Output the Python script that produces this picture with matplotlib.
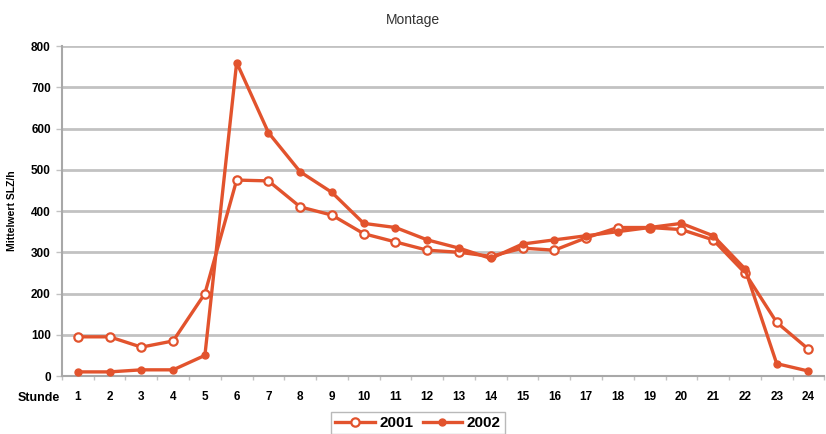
import matplotlib
matplotlib.use("Agg")
import matplotlib.pyplot as plt
import numpy as np

hours = list(range(1, 25))
val_2001 = [95, 95, 70, 85, 200, 475, 473, 410, 390, 345, 325, 305, 300, 290,
            310, 305, 335, 360, 360, 355, 330, 250, 130, 65]
val_2002 = [10, 10, 15, 15, 50, 760, 590, 495, 445, 370, 360, 330, 310, 285,
            320, 330, 340, 350, 360, 370, 340, 260, 30, 12]
y_ticks = [0, 100, 200, 300, 400, 500, 600, 700, 800]

color = "#E2532D"
grid_c = "#C2C2C2"
spine_c = "#A8A8A8"
font = "Liberation Sans"

fig = plt.figure(figsize=(8.26, 4.34), dpi=100)
ax = fig.add_axes([0.075, 0.1336, 0.923, 0.7604])

x = np.arange(len(hours))
ax.plot(x, val_2001, color=color, lw=2.4, marker="o", ms=6,
        mfc="white", mec=color, mew=1.6, label="2001", zorder=3)
ax.plot(x, val_2002, color=color, lw=2.4, marker="o", ms=5,
        mfc=color, mec=color, label="2002", zorder=4)

ax.set_xlim(-0.5, len(hours) - 0.5)
ax.set_ylim(0, 800)
ax.set_yticks(y_ticks)
ax.set_yticklabels([str(v) for v in y_ticks], fontsize=8.5, fontweight="bold",
                   family=font)
ax.yaxis.grid(True, color=grid_c, lw=2)
ax.set_axisbelow(True)

ax.set_xticks(x)
ax.set_xticklabels([str(h) for h in hours], fontsize=8.5, fontweight="bold",
                   family=font)
ax.tick_params(axis="x", length=0, pad=11)
ax.set_xticks(np.arange(-0.5, len(hours)), minor=True)
ax.tick_params(axis="x", which="minor", length=3, color=grid_c, width=1)
ax.tick_params(axis="y", length=4, color=grid_c, width=1, pad=4)

for s in ("top", "right"):
    ax.spines[s].set_visible(False)
ax.spines["left"].set_color(spine_c)
ax.spines["left"].set_linewidth(1.5)
ax.spines["bottom"].set_color(spine_c)
ax.spines["bottom"].set_linewidth(1.5)

ax.set_ylabel("Mittelwert SLZ/h", fontsize=7.5, fontweight="bold",
              family=font, labelpad=10)
fig.text(0.073, 1 - 398 / 434, "Stunde", ha="right", va="center",
         fontsize=9, fontweight="bold", family=font)

fig.suptitle("Montage", y=1 - 20 / 434, va="center", fontsize=10,
             color="#333333", family=font)

leg = ax.legend(loc="center", ncol=2, frameon=True,
                prop={"family": font, "weight": "bold", "size": 11},
                handlelength=2.6, columnspacing=0.6, handletextpad=0.3,
                borderpad=0.25, fancybox=False, edgecolor=spine_c)
leg.set_bbox_to_anchor((418 / 826, 1 - 423 / 434), transform=fig.transFigure)

fig.savefig("out.png", dpi=100)
